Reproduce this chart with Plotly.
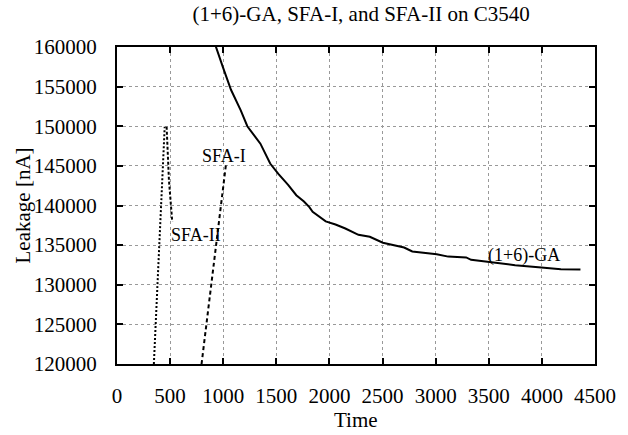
import plotly.graph_objects as go

# (1+6)-GA trajectory
ga_time = [925, 932, 996, 1073, 1165, 1227, 1300, 1350, 1442, 1519, 1611, 1688, 1760, 1811,
           1842, 1965, 2057, 2150, 2273, 2380, 2503, 2703, 2780, 3010, 3118, 3287, 3334,
           3503, 3748, 3995, 4179, 4363]
ga_leak = [160600, 160000, 157500, 154600, 152000, 150000, 148700, 147800, 145300, 144000,
           142600, 141300, 140500, 139800, 139200, 138000, 137600, 137100, 136300, 136050,
           135300, 134700, 134200, 133850, 133550, 133450, 133150, 132850, 132470,
           132180, 131970, 131930]

# SFA-I trajectory
sfa1_time = [796, 889, 935, 987, 1027]
sfa1_leak = [120000, 129950, 135000, 140680, 145310]

# SFA-II trajectory (rising dotted part and falling part)
sfa2_time = [347, 381, 412, 449]
sfa2_leak = [120000, 129950, 140050, 149940]
sfa2b_time = [467, 489, 520]
sfa2b_leak = [149940, 143200, 137950]

labels = ["SFA-I", "SFA-II", "(1+6)-GA"]
label_x = [1006, 747, 3830]
label_y = [146240, 136260, 133740]

FONT = "Liberation Serif"

fig = go.Figure()
fig.add_trace(go.Scatter(x=ga_time, y=ga_leak, mode="lines",
                         line=dict(color="black", width=2), showlegend=False))
fig.add_trace(go.Scatter(x=sfa1_time, y=sfa1_leak, mode="lines",
                         line=dict(color="black", width=2, dash="4px,3px"), showlegend=False))
fig.add_trace(go.Scatter(x=sfa2_time, y=sfa2_leak, mode="lines",
                         line=dict(color="black", width=2, dash="2px,2px"), showlegend=False))
fig.add_trace(go.Scatter(x=sfa2b_time, y=sfa2b_leak, mode="lines",
                         line=dict(color="black", width=2, dash="3px,2px"), showlegend=False))

for t, lx, ly in zip(labels, label_x, label_y):
    fig.add_annotation(x=lx, y=ly, text=t, showarrow=False,
                       font=dict(family=FONT, size=18, color="black"),
                       xanchor="center", yanchor="middle")

fig.add_annotation(text="Time", xref="paper", yref="paper", x=0.5, y=-56/317,
                   showarrow=False, xanchor="center", yanchor="middle",
                   font=dict(family=FONT, size=21, color="black"))
fig.add_annotation(text="Leakage [nA]", xref="paper", yref="paper",
                   x=-96/488, y=0.5, textangle=-90, showarrow=False,
                   xanchor="center", yanchor="middle",
                   font=dict(family=FONT, size=21, color="black"))

axis_common = dict(
    showline=True, linecolor="black", linewidth=2, mirror="ticks",
    ticks="inside", ticklen=6, tickwidth=2, tickcolor="black",
    showgrid=True, gridcolor="#999999", gridwidth=1, griddash="dot",
    zeroline=False, tickfont=dict(family=FONT, size=21, color="black"),
)

fig.update_layout(
    width=628, height=435,
    font=dict(family=FONT, size=21, color="black"),
    margin=dict(l=117, r=23, t=47, b=71),
    paper_bgcolor="white", plot_bgcolor="white",
    title=dict(text="(1+6)-GA, SFA-I, and SFA-II on C3540",
               x=0.575, xanchor="center", y=1 - 14/435, yanchor="middle",
               font=dict(family=FONT, size=21, color="black")),
    xaxis=dict(range=[0, 4500], dtick=500, tick0=0, ticklabelstandoff=12, **axis_common),
    yaxis=dict(range=[120000, 160000], dtick=5000, tick0=120000, tickformat="d",
               ticklabelstandoff=14, **axis_common),
)

fig.write_html("out.html")
